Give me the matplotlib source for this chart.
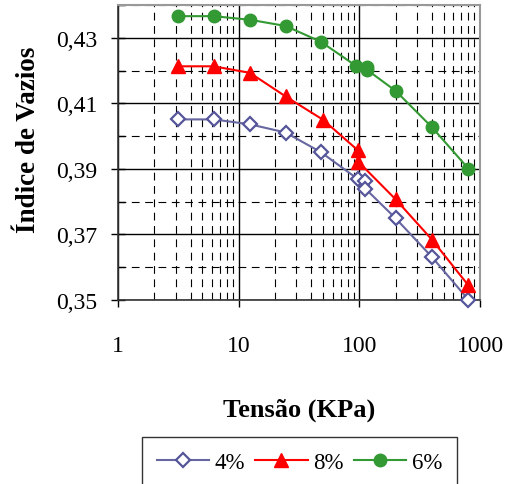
import matplotlib
matplotlib.use("Agg")
import matplotlib.pyplot as plt
from matplotlib.ticker import FixedLocator, FuncFormatter, LogLocator, NullFormatter

plt.rcParams['font.family'] = ['Liberation Serif', 'DejaVu Serif']

# Data
x_4 = [3.12, 6.2, 12.4, 24.5, 48, 98, 112, 112, 200, 400, 800]
y_4 = [0.4051, 0.4051, 0.4036, 0.4011, 0.3951, 0.3868, 0.3863, 0.3840, 0.3749, 0.3631, 0.3501]

x_8 = [3.12, 6.2, 12.4, 24.5, 50, 97, 98, 200, 400, 800]
y_8 = [0.4213, 0.4213, 0.4193, 0.4121, 0.4050, 0.3957, 0.3922, 0.3807, 0.3684, 0.3545]

x_6 = [3.12, 6.2, 12.4, 24.5, 48, 94, 116, 116, 200, 400, 800]
y_6 = [0.4366, 0.4366, 0.4355, 0.4336, 0.4288, 0.4214, 0.4211, 0.4202, 0.4138, 0.4027, 0.3901]

labels = ['4%', '8%', '6%']
y_major = [0.35, 0.37, 0.39, 0.41, 0.43]
y_minor = [0.36, 0.38, 0.40, 0.42, 0.44]

fig = plt.figure(figsize=(5.12, 4.85), dpi=100)
ax = fig.add_axes([0.2305, 0.3794, 0.707, 0.6082])

ax.set_xscale('log')
ax.set_xlim(1, 1000)
ax.set_ylim(0.35, 0.44)

ax.yaxis.set_major_locator(FixedLocator(y_major))
ax.yaxis.set_minor_locator(FixedLocator(y_minor))
ax.yaxis.set_major_formatter(FuncFormatter(lambda v, p: f"{v:.2f}".replace('.', ',')))
ax.xaxis.set_major_locator(FixedLocator([1, 10, 100, 1000]))
ax.xaxis.set_major_formatter(FuncFormatter(lambda v, p: f"{int(round(v))}"))
ax.xaxis.set_minor_locator(LogLocator(base=10, subs=range(2, 10)))
ax.xaxis.set_minor_formatter(NullFormatter())

ax.grid(True, which='major', axis='both', color='black', linewidth=1.0, linestyle='-')
ax.grid(True, which='minor', axis='both', color='black', linewidth=0.8, linestyle=(0, (7, 5)))
ax.set_axisbelow(True)

ax.plot(x_4, y_4, color='#6666a0', linewidth=1.5, marker='D', markersize=7.5,
        markerfacecolor='white', markeredgecolor='#55559a', markeredgewidth=1.6, label=labels[0], clip_on=False, zorder=3)
ax.plot(x_8, y_8, color='#ff0000', linewidth=1.5, marker='^', markersize=10,
        markerfacecolor='#ff0000', markeredgecolor='#ff0000', label=labels[1], clip_on=False, zorder=3)
ax.plot(x_6, y_6, color='#339933', linewidth=1.5, marker='o', markersize=9,
        markerfacecolor='#339933', markeredgecolor='#339933', label=labels[2], clip_on=False, zorder=3)

for s in ['top', 'right']:
    ax.spines[s].set_color('#999999')
    ax.spines[s].set_linewidth(1.5)
for s in ['left', 'bottom']:
    ax.spines[s].set_color('#333333')
    ax.spines[s].set_linewidth(1.2)

ax.tick_params(axis='y', which='major', direction='inout', length=10, width=1, labelsize=17, pad=10)
ax.tick_params(axis='y', which='minor', direction='in', length=5, width=1)
ax.tick_params(axis='x', which='major', direction='out', length=5, width=1, labelsize=17, pad=20)
ax.tick_params(axis='x', which='minor', length=0)

ax.set_ylabel('Índice de Vazios', fontsize=19.5, fontweight='bold')
ax.yaxis.set_label_coords(-0.213, 0.546)
ax.set_xlabel('Tensão (KPa)', fontsize=19, fontweight='bold', labelpad=30)

leg = fig.legend(loc='upper center', bbox_to_anchor=(0.585, 0.0969), ncol=3, fontsize=16.5,
                 frameon=True, fancybox=False, edgecolor='black', borderpad=0.65, borderaxespad=0,
                 handlelength=2.3, handletextpad=0.25, columnspacing=0.42)
leg.get_frame().set_linewidth(1.0)

fig.savefig('out.png', dpi=100)
